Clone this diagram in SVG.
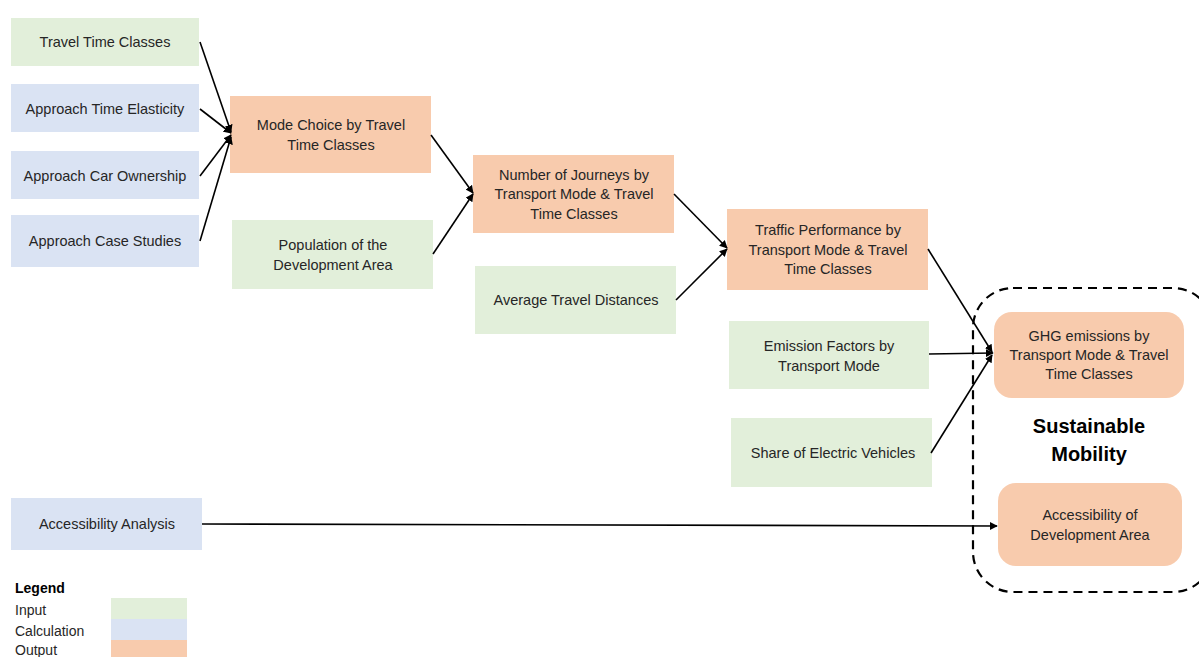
<svg xmlns="http://www.w3.org/2000/svg" width="1199" height="657" viewBox="0 0 1199 657">
<style>
.in{fill:#E2EFDA}
.calc{fill:#DAE3F3}
.out{fill:#F8CBAD}
text{font-family:"Liberation Sans",Arial,sans-serif;font-size:14.5px;fill:#262626;text-anchor:middle}
.leg{text-anchor:start;font-size:14px}
.bold{font-weight:bold;fill:#000}
.conn line{stroke:#000;stroke-width:1.6;marker-end:url(#ah)}
</style>
<defs>
<marker id="ah" viewBox="0 0 10 10" refX="9" refY="5" markerWidth="5" markerHeight="5" orient="auto" markerUnits="strokeWidth">
<path d="M0,0 L10,5 L0,10 z" fill="#000"/>
</marker>
</defs>
<rect width="1199" height="657" fill="#fff"/>
<g id="container">
<rect x="973" y="288" width="240" height="304" rx="40" fill="none" stroke="#000" stroke-width="2.2" stroke-dasharray="9,6"/>
<text x="1089" y="433" class="bold" style="font-size:20px">Sustainable</text>
<text x="1089" y="461" class="bold" style="font-size:20px">Mobility</text>
</g>
<g id="n-travel-time"><rect class="in" x="11" y="18" width="188" height="48"/><text x="105" y="47">Travel Time Classes</text></g>
<g id="n-time-elasticity"><rect class="calc" x="11" y="84" width="188" height="48"/><text x="105" y="114">Approach Time Elasticity</text></g>
<g id="n-car-ownership"><rect class="calc" x="11" y="151" width="188" height="48"/><text x="105" y="181">Approach Car Ownership</text></g>
<g id="n-case-studies"><rect class="calc" x="11" y="215" width="188" height="52"/><text x="105" y="246">Approach Case Studies</text></g>
<g id="n-mode-choice"><rect class="out" x="230" y="96" width="201" height="77"/><text x="331" y="130">Mode Choice by Travel</text><text x="331" y="150">Time Classes</text></g>
<g id="n-population"><rect class="in" x="232" y="220" width="201" height="69"/><text x="333" y="250">Population of the</text><text x="333" y="270">Development Area</text></g>
<g id="n-journeys"><rect class="out" x="473" y="155" width="201" height="78"/><text x="574" y="180">Number of Journeys by</text><text x="574" y="199">Transport Mode &amp; Travel</text><text x="574" y="219">Time Classes</text></g>
<g id="n-avg-distances"><rect class="in" x="475" y="266" width="201" height="68"/><text x="576" y="305">Average Travel Distances</text></g>
<g id="n-traffic"><rect class="out" x="727" y="209" width="201" height="81"/><text x="828" y="235">Traffic Performance by</text><text x="828" y="255">Transport Mode &amp; Travel</text><text x="828" y="274">Time Classes</text></g>
<g id="n-emission-factors"><rect class="in" x="729" y="321" width="200" height="68"/><text x="829" y="351">Emission Factors by</text><text x="829" y="371">Transport Mode</text></g>
<g id="n-ev-share"><rect class="in" x="731" y="418" width="201" height="69"/><text x="833" y="458">Share of Electric Vehicles</text></g>
<g id="n-ghg"><rect class="out" x="994" y="312" width="190" height="86" rx="18"/><text x="1089" y="341">GHG emissions by</text><text x="1089" y="360">Transport Mode &amp; Travel</text><text x="1089" y="379">Time Classes</text></g>
<g id="n-accessibility-area"><rect class="out" x="998" y="483" width="184" height="83" rx="18"/><text x="1090" y="520">Accessibility of</text><text x="1090" y="540">Development Area</text></g>
<g id="n-accessibility-analysis"><rect class="calc" x="11" y="498" width="191" height="52"/><text x="107" y="529">Accessibility Analysis</text></g>
<g id="legend">
<text x="15" y="593" class="leg bold">Legend</text>
<text x="15" y="615" class="leg">Input</text>
<text x="15" y="636" class="leg">Calculation</text>
<text x="15" y="655" class="leg">Output</text>
<rect class="in" x="111" y="598" width="76" height="21"/>
<rect class="calc" x="111" y="619" width="76" height="21"/>
<rect class="out" x="111" y="640" width="76" height="17"/>
</g>
<g id="connectors" class="conn">
<line x1="200" y1="42" x2="231" y2="132"/>
<line x1="200" y1="109" x2="231" y2="133"/>
<line x1="200" y1="176" x2="231" y2="135"/>
<line x1="200" y1="241" x2="231" y2="137"/>
<line x1="431" y1="135" x2="473" y2="193"/>
<line x1="433" y1="254" x2="473" y2="194"/>
<line x1="674" y1="194" x2="727" y2="248"/>
<line x1="676" y1="300" x2="727" y2="249"/>
<line x1="928" y1="249" x2="992" y2="352"/>
<line x1="929" y1="354" x2="993" y2="353"/>
<line x1="931" y1="453" x2="992" y2="355"/>
<line x1="202" y1="524" x2="997" y2="526"/>
</g>
</svg>
